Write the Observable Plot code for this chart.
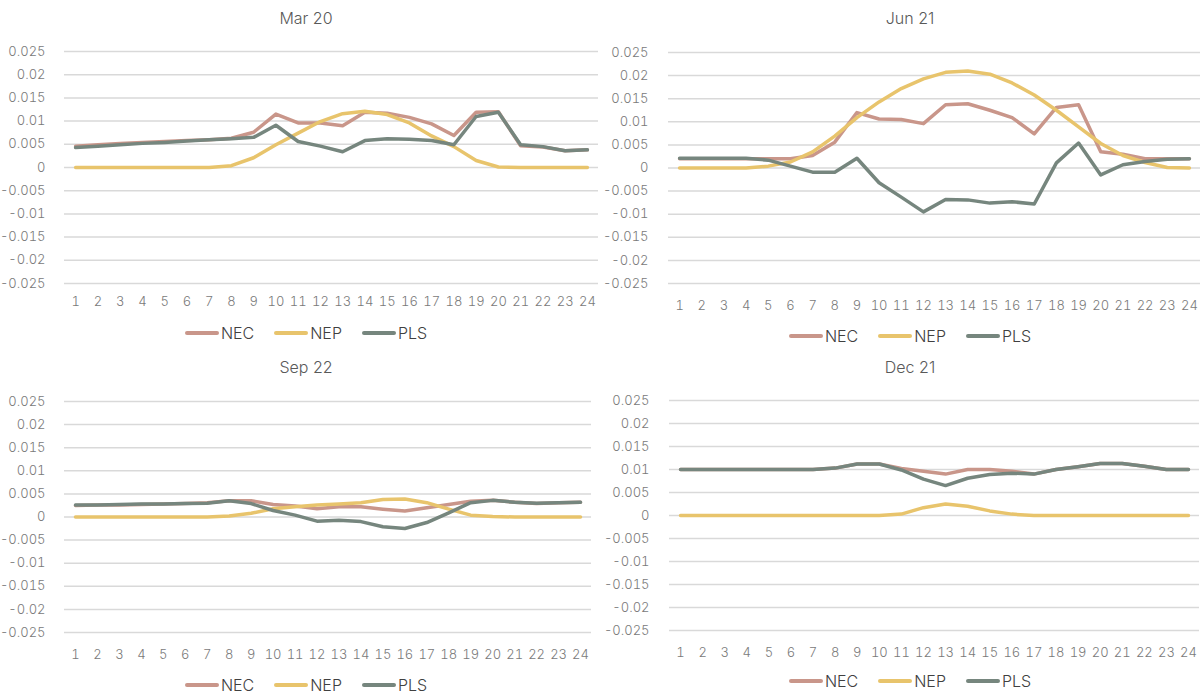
<!DOCTYPE html>
<html>
<head>
<meta charset="utf-8">
<script src="https://cdn.jsdelivr.net/npm/d3@7"></script>
<script src="https://cdn.jsdelivr.net/npm/@observablehq/plot@0.6"></script>
<style>
  html, body { margin: 0; padding: 0; background: #fff; }
  #root { position: relative; width: 1202px; height: 695px; overflow: hidden; font-family: Inter, "Noto Sans", sans-serif; font-weight: 300; }
  .panel-svg { position: absolute; }
  .title { position: absolute; width: 300px; text-align: center; font-size: 16px; color: #595959; line-height: 20px; }
  .legend { position: absolute; width: 400px; display: flex; justify-content: center; align-items: center; font-size: 16px; color: #404040; line-height: 20px; }
  .legend .item { display: flex; align-items: center; margin: 0 10px; }
  .legend svg { margin-right: 2px; }
</style>
</head>
<body>
<div id="root"></div>
<script>
// ---- data ----
const hours = [1, 2, 3, 4, 5, 6, 7, 8, 9, 10, 11, 12, 13, 14, 15, 16, 17, 18, 19, 20, 21, 22, 23, 24];
const seriesNames = ["NEC", "NEP", "PLS"];
const seriesColors = ["#c9968a", "#e8c46c", "#76867e"];
const yTicks = [-0.025, -0.02, -0.015, -0.01, -0.005, 0, 0.005, 0.01, 0.015, 0.02, 0.025];
const panelTitles = ["Mar 20", "Jun 21", "Sep 22", "Dec 21"];

const marNEC = [0.0046, 0.0049, 0.0052, 0.0054, 0.0056, 0.0058, 0.0060, 0.0063, 0.0076, 0.0115, 0.0096, 0.0096, 0.0090, 0.0119, 0.0117, 0.0108, 0.0094, 0.0069, 0.0119, 0.0120, 0.0047, 0.0044, 0.0036, 0.0038];
const marNEP = [0, 0, 0, 0, 0, 0, 0, 0.0004, 0.0021, 0.0049, 0.0074, 0.0099, 0.0116, 0.0121, 0.0114, 0.0096, 0.0068, 0.0045, 0.0015, 0.0001, 0, 0, 0, 0];
const marPLS = [0.0043, 0.0046, 0.0049, 0.0052, 0.0054, 0.0057, 0.0060, 0.0062, 0.0065, 0.0091, 0.0056, 0.0046, 0.0034, 0.0058, 0.0062, 0.0061, 0.0058, 0.0049, 0.0110, 0.0119, 0.0049, 0.0045, 0.0036, 0.0038];

const junNEC = [0.0020, 0.0020, 0.0020, 0.0020, 0.0020, 0.0020, 0.0027, 0.0056, 0.0120, 0.0106, 0.0105, 0.0096, 0.0137, 0.0139, 0.0125, 0.0109, 0.0074, 0.0131, 0.0137, 0.0035, 0.0030, 0.0020, 0.0020, 0.0020];
const junNEP = [0, 0, 0, 0, 0.0004, 0.0013, 0.0035, 0.0069, 0.0109, 0.0143, 0.0172, 0.0193, 0.0207, 0.0210, 0.0203, 0.0184, 0.0158, 0.0125, 0.0089, 0.0053, 0.0027, 0.0012, 0.0001, 0];
const junPLS = [0.0021, 0.0021, 0.0021, 0.0021, 0.0017, 0.0004, -0.0009, -0.0009, 0.0021, -0.0032, -0.0063, -0.0095, -0.0068, -0.0069, -0.0076, -0.0073, -0.0078, 0.0011, 0.0054, -0.0015, 0.0007, 0.0014, 0.0019, 0.0020];

const sepNEC = [0.0025, 0.0026, 0.0026, 0.0027, 0.0028, 0.0029, 0.0031, 0.0035, 0.0035, 0.0027, 0.0024, 0.0018, 0.0022, 0.0022, 0.0017, 0.0013, 0.0020, 0.0027, 0.0034, 0.0036, 0.0032, 0.0029, 0.0031, 0.0032];
const sepNEP = [0, 0, 0, 0, 0, 0, 0, 0.0002, 0.0008, 0.0018, 0.0022, 0.0026, 0.0028, 0.0031, 0.0038, 0.0039, 0.0031, 0.0017, 0.0004, 0.0001, 0, 0, 0, 0];
const sepPLS = [0.0026, 0.0026, 0.0027, 0.0028, 0.0028, 0.0029, 0.0030, 0.0035, 0.0029, 0.0014, 0.0004, -0.0009, -0.0007, -0.0010, -0.0021, -0.0025, -0.0012, 0.0009, 0.0031, 0.0036, 0.0032, 0.0030, 0.0031, 0.0032];

const decNEC = [0.0100, 0.0100, 0.0100, 0.0100, 0.0100, 0.0100, 0.0100, 0.0103, 0.0112, 0.0112, 0.0102, 0.0096, 0.0090, 0.0100, 0.0100, 0.0096, 0.0090, 0.0100, 0.0106, 0.0113, 0.0113, 0.0107, 0.0100, 0.0100];
const decNEP = [0, 0, 0, 0, 0, 0, 0, 0, 0, 0, 0.0003, 0.0017, 0.0025, 0.0020, 0.0010, 0.0003, 0, 0, 0, 0, 0, 0, 0, 0];
const decPLS = [0.0100, 0.0100, 0.0100, 0.0100, 0.0100, 0.0100, 0.0100, 0.0103, 0.0112, 0.0112, 0.0099, 0.0079, 0.0065, 0.0081, 0.0089, 0.0092, 0.0090, 0.0100, 0.0106, 0.0113, 0.0113, 0.0107, 0.0100, 0.0100];

const panelData = [
  [marNEC, marNEP, marPLS],
  [junNEC, junNEP, junPLS],
  [sepNEC, sepNEP, sepPLS],
  [decNEC, decNEP, decPLS]
];

// ---- layout ----
const layouts = [
  {left: 0,   top: 40,  mL: 64, mR: 2, plotH: 232, xPad: 13, yPad: 19, titleY: 8,   legendY: 323, cx: 306},
  {left: 602, top: 41,  mL: 66, mR: 2, plotH: 231, xPad: 17, yPad: 20, titleY: 8,   legendY: 326, cx: 910},
  {left: 0,   top: 390, mL: 64, mR: 9, plotH: 231, xPad: 17, yPad: 19, titleY: 357, legendY: 675, cx: 306},
  {left: 602, top: 389, mL: 67, mR: 3, plotH: 230, xPad: 17, yPad: 20, titleY: 357, legendY: 671, cx: 910}
];

const root = document.getElementById("root");
const font = "Inter, 'Noto Sans', sans-serif";

panelData.forEach((arrs, i) => {
  const L = layouts[i];
  const rows = [];
  seriesNames.forEach((s, j) => {
    hours.forEach((h, k) => rows.push({hour: h, value: arrs[j][k], series: s}));
  });
  const mB = 34;
  const chart = Plot.plot({
    width: 600,
    height: 11 + L.plotH + mB,
    marginLeft: L.mL,
    marginRight: L.mR,
    marginTop: 11,
    marginBottom: mB,
    style: {fontFamily: font, fontSize: "13px", fontWeight: 300, color: "#7a7a7a", background: "transparent", overflow: "visible"},
    x: {type: "linear", domain: [0.5, 24.5], ticks: hours, tickFormat: d => String(d), tickSize: 0, tickPadding: L.xPad, label: null},
    y: {domain: [-0.025, 0.025], ticks: yTicks, tickFormat: d => String(d), tickSize: 0, tickPadding: L.yPad, label: null},
    color: {domain: seriesNames, range: seriesColors},
    marks: [
      Plot.ruleY(yTicks, {stroke: "#d9d9d9", strokeWidth: 1.5}),
      Plot.lineY(rows, {x: "hour", y: "value", z: "series", stroke: "series", strokeWidth: 3.5, strokeLinejoin: "round", strokeLinecap: "round"})
    ]
  });
  chart.classList.add("panel-svg");
  chart.style.left = L.left + "px";
  chart.style.top = L.top + "px";
  root.appendChild(chart);

  const t = document.createElement("div");
  t.className = "title";
  t.textContent = panelTitles[i];
  t.style.left = (L.cx - 150) + "px";
  t.style.top = L.titleY + "px";
  root.appendChild(t);

  const lg = document.createElement("div");
  lg.className = "legend";
  lg.style.left = (L.cx - 200) + "px";
  lg.style.top = L.legendY + "px";
  seriesNames.forEach((s, j) => {
    const it = document.createElement("div");
    it.className = "item";
    it.innerHTML = `<svg width="34" height="6"><line x1="2" y1="3" x2="32" y2="3" stroke="${seriesColors[j]}" stroke-width="4" stroke-linecap="round"/></svg><span>${s}</span>`;
    lg.appendChild(it);
  });
  root.appendChild(lg);
});
</script>
</body>
</html>
